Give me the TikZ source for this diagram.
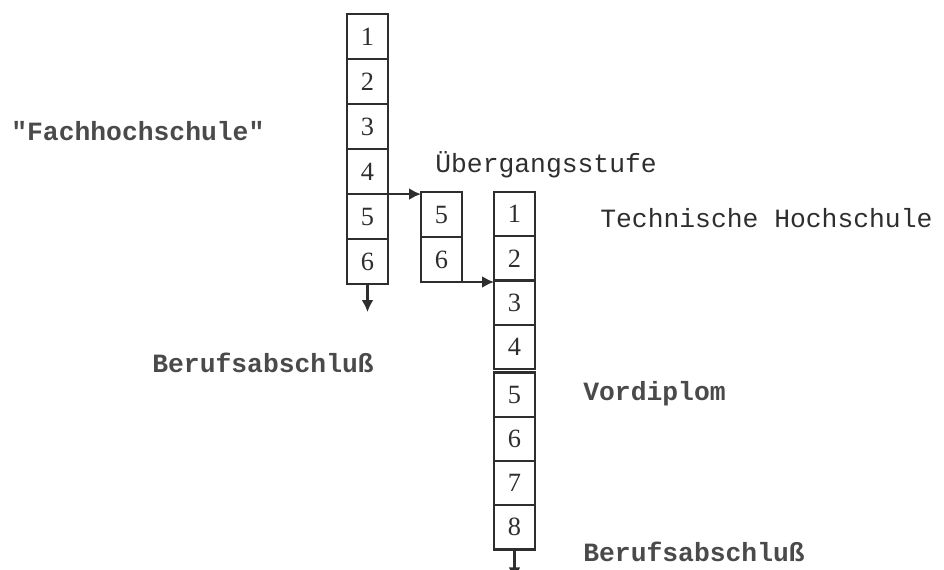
\documentclass[tikz,border=0pt]{standalone}
\usepackage{fontspec}
\usepackage{tikz}
\usetikzlibrary{arrows.meta,positioning}
\newfontfamily\schreibfont{Liberation Mono}
\newfontfamily\zifffont{Liberation Serif}
\definecolor{tinte}{HTML}{2E2E2E}
\definecolor{tintehell}{HTML}{4A4A4A}
\tikzset{
  zelle/.style={draw=tinte, line width=1.3pt, outer sep=0pt, inner sep=0pt, minimum width=0.82cm, minimum height=#1, text=tinte, font=\zifffont\fontsize{15}{18}\selectfont},
  zelle/.default=0.9cm,
  beschrift/.style={anchor=west, inner sep=0pt, text=tinte, font=\schreibfont\fontsize{15}{18}\selectfont},
  beschriftfett/.style={beschrift, text=tintehell, font=\schreibfont\bfseries\fontsize{15}{18}\selectfont},
  pfeil/.style={-{Latex[length=2.4mm,width=2.4mm]}, line width=1.3pt, draw=tinte},
}
\begin{document}
\begin{tikzpicture}[x=0.02cm, y=-0.02cm, node distance=0mm]
\useasboundingbox (0,0) rectangle (944,569);
% Fachhochschule
\node[zelle] (f1) at (367.5,36.6) {1};
\node[zelle, below=of f1] (f2) {2};
\node[zelle, below=of f2] (f3) {3};
\node[zelle, below=of f3] (f4) {4};
\node[zelle, below=of f4] (f5) {5};
\node[zelle, below=of f5] (f6) {6};
\coordinate[below=5.6mm of f6] (fend);

% Uebergangsstufe
\node[zelle] (u5) at (441.5,214.5) {5};
\node[zelle, below=of u5] (u6) {6};

% Technische Hochschule
\node[zelle=0.885cm] (t1) at (514.5,214.1) {1};
\node[zelle=0.885cm, below=of t1] (t2) {2};
\node[zelle=0.885cm, below=of t2] (t3) {3};
\node[zelle=0.885cm, below=of t3] (t4) {4};
\node[zelle=0.885cm, below=0.07cm of t4] (t5) {5};
\node[zelle=0.885cm, below=of t5] (t6) {6};
\node[zelle=0.885cm, below=of t6] (t7) {7};
\node[zelle=0.885cm, below=of t7] (t8) {8};
\coordinate[below=6mm of t8] (tend);

% Pfeile
\draw[pfeil] (f4.south east) -- (f4.south east -| u5.west);
\draw[pfeil] (u6.south east) -- (u6.south east -| t2.west);
\draw[pfeil] (f6.south) -- (fend);
\draw[pfeil] (t8.south) -- (tend);

% Beschriftungen
\node[beschriftfett] (lfh) at (11,131) {"Fachhochschule"};
\node[beschrift] (lub) at (435,165) {Übergangsstufe};
\node[beschrift] (lth) at (600,218) {Technische Hochschule};
\node[beschriftfett] (lba) at (152,363) {Berufsabschluß};
\node[beschriftfett] (lvd) at (583,394) {Vordiplom};
\node[beschriftfett] (lbb) at (583,552) {Berufsabschluß};
\end{tikzpicture}
\end{document}
